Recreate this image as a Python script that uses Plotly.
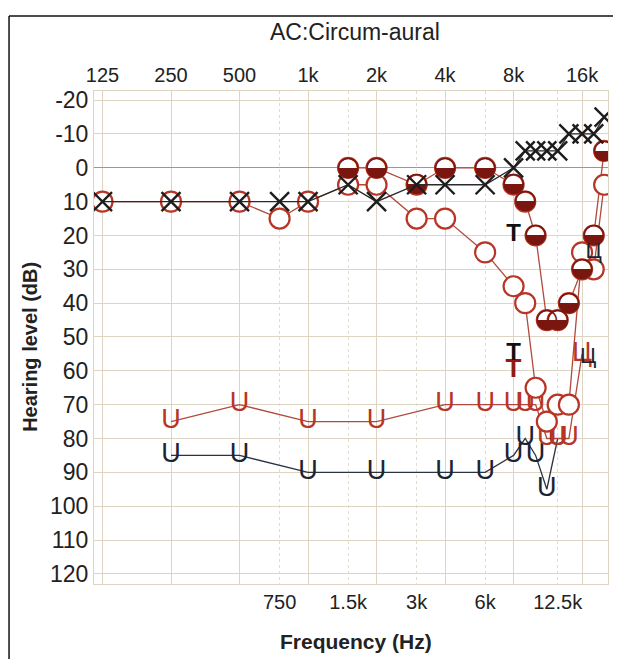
import plotly.graph_objects as go

# ---------------- data ----------------
freq_all = [125, 250, 500, 750, 1000, 1500, 2000, 3000, 4000, 6000, 8000,
            9000, 10000, 11200, 12500, 14000, 16000, 18000, 20000]

# black X series
x_db = [10, 10, 10, 10, 10, 5, 10, 5, 5, 5, 0, -5, -5, -5, -5, -10, -10, -10, -15]

# red open-circle series
open_db = [10, 10, 10, 15, 10, 5, 5, 15, 15, 25, 35, 40, 65, 75, 70, 70, 25, 30, 5]

# red half-filled circle series
half_freq = [1500, 2000, 3000, 4000, 6000, 8000, 9000, 10000, 11200, 12500,
             14000, 16000, 18000, 20000]
half_db = [0, 0, 5, 0, 0, 5, 10, 20, 45, 45, 40, 30, 20, -5]

# red "U" series (last point: no-response symbol)
redu_freq = [250, 500, 1000, 2000, 4000, 6000, 8000, 9000, 10000, 11200,
             12500, 14000, 16000]
redu_db = [75, 70, 75, 75, 70, 70, 70, 70, 70, 80, 80, 80, 55]
redu_sym = ["U"] * 12 + ["Ц"]

# black "U" series
blku_freq = [250, 500, 1000, 2000, 4000, 6000, 8000, 9000, 10000, 11200, 12500]
blku_db = [85, 85, 90, 90, 90, 90, 85, 80, 85, 95, 80]

# isolated symbols
blk_t_freq = [8000, 8000]
blk_t_db = [20, 55]
red_t_freq = [8000]
red_t_db = [60]
blk_nr_freq = [18000, 17000]
blk_nr_db = [25, 56]

top_ticks = [125, 250, 500, 1000, 2000, 4000, 8000, 16000]
top_labels = ["125", "250", "500", "1k", "2k", "4k", "8k", "16k"]
bot_ticks = [750, 1500, 3000, 6000, 12500]
bot_labels = ["750", "1.5k", "3k", "6k", "12.5k"]
y_ticks = list(range(-20, 121, 10))
y_labels = [str(v) for v in y_ticks]

RED = "#b83526"
RED_LINE = "#b04a3c"
DARK_RED = "#7a1610"
BLACK = "#1d1d1d"
NAVY = "#1c2434"
GRID = "#ddd4c4"
FONT = "Liberation Sans, Arial, sans-serif"

fig = go.Figure()

# ---------- connecting lines (drawn first, under every marker) ----------
fig.add_trace(go.Scatter(x=blku_freq, y=blku_db, mode="lines",
                         line=dict(color="#2c3340", width=1.3), hoverinfo="skip"))
fig.add_trace(go.Scatter(x=redu_freq, y=redu_db, mode="lines",
                         line=dict(color=RED_LINE, width=1.3), hoverinfo="skip"))
fig.add_trace(go.Scatter(x=freq_all, y=open_db, mode="lines",
                         line=dict(color=RED_LINE, width=1.3), hoverinfo="skip"))
fig.add_trace(go.Scatter(x=half_freq, y=half_db, mode="lines",
                         line=dict(color=RED_LINE, width=1.3), hoverinfo="skip"))
fig.add_trace(go.Scatter(x=freq_all, y=x_db, mode="lines", xaxis="x2",
                         line=dict(color="#2a2a2a", width=1.3), hoverinfo="skip"))

# ---------- U symbols ----------
fig.add_trace(go.Scatter(x=blku_freq, y=blku_db, mode="text", text=["U"] * len(blku_db),
                         textposition="middle center",
                         textfont=dict(family=FONT, size=27, color=NAVY)))
fig.add_trace(go.Scatter(x=redu_freq, y=redu_db, mode="text", text=redu_sym,
                         textposition="middle center",
                         textfont=dict(family=FONT, size=27, color=RED)))

# ---------- open circles ----------
fig.add_trace(go.Scatter(x=freq_all, y=open_db, mode="markers",
                         marker=dict(symbol="circle", size=20, color="white",
                                     line=dict(color=RED, width=2.2))))

# ---------- half-filled circles ----------
fig.add_trace(go.Scatter(x=half_freq, y=half_db, mode="markers+text",
                         text=["◒"] * len(half_db), textposition="middle center",
                         textfont=dict(family="DejaVu Sans", size=27, color=DARK_RED),
                         marker=dict(symbol="circle", size=20, color="white",
                                     line=dict(color=RED, width=2.2))))

# ---------- X symbols ----------
fig.add_trace(go.Scatter(x=freq_all, y=x_db, mode="markers", xaxis="x2",
                         marker=dict(symbol="x-thin-open", size=19, color=BLACK,
                                     line=dict(color=BLACK, width=2.4))))

# ---------- T and no-response symbols ----------
fig.add_trace(go.Scatter(x=red_t_freq, y=red_t_db, mode="text", text=["<b>T</b>"],
                         textfont=dict(family=FONT, size=26, color="#8e1c12")))
fig.add_trace(go.Scatter(x=blk_t_freq, y=blk_t_db, mode="text", text=["<b>T</b>"] * 2,
                         textfont=dict(family=FONT, size=24, color="#111111")))
fig.add_trace(go.Scatter(x=blk_nr_freq, y=blk_nr_db, mode="text", text=["Ц"] * 2,
                         textfont=dict(family=FONT, size=22, color=NAVY)))

xr = [2.0596, 4.318]
axis_common = dict(type="log", range=xr, showline=True, mirror=True, linecolor=GRID,
                   linewidth=1, ticks="", automargin=False,
                   tickfont=dict(family=FONT, size=20, color="#222"))

# the page body adds an 8px margin, so the figure is laid out shifted by 8px
fig.update_layout(
    width=613, height=651,
    margin=dict(l=86, r=13, t=83, b=75, autoexpand=False),
    paper_bgcolor="white", plot_bgcolor="white",
    showlegend=False,
    title=dict(text="AC:Circum-aural", x=0.566, xref="container", xanchor="center",
               y=1 - 24 / 651, yref="container", yanchor="middle",
               font=dict(family=FONT, size=23, color="#222")),
    xaxis=dict(axis_common, tickvals=bot_ticks, ticktext=bot_labels, side="bottom",
               gridcolor="#e4dccd", griddash="dot", gridwidth=1),
    xaxis2=dict(axis_common, tickvals=top_ticks, ticktext=top_labels, side="top",
                overlaying="x", matches="x", anchor="y",
                gridcolor=GRID, gridwidth=1),
    yaxis=dict(range=[123, -22.7], tickvals=y_ticks, ticktext=y_labels,
               showline=True, mirror=True, automargin=False,
               linecolor=GRID, gridcolor=GRID, gridwidth=1, ticks="",
               zeroline=True, zerolinecolor="#9b9890", zerolinewidth=1.3,
               tickfont=dict(family=FONT, size=23, color="#222")),
    annotations=[
        dict(text="<b>Hearing level (dB)</b>", xref="paper", yref="paper",
             x=-0.1245, y=0.481, textangle=-90, showarrow=False,
             xanchor="center", yanchor="middle",
             font=dict(family=FONT, size=20, color="#222")),
        dict(text="<b>Frequency (Hz)</b>", xref="paper", yref="paper",
             x=0.51, y=-0.1176, showarrow=False, xanchor="center", yanchor="middle",
             font=dict(family=FONT, size=21, color="#222")),
    ],
    shapes=[
        dict(type="line", xref="paper", yref="paper", x0=-0.1653, x1=-0.1653,
             y0=1.152, y1=-0.2, line=dict(color="#111", width=1.5)),
        dict(type="line", xref="paper", yref="paper", x0=-0.1653, x1=1.1,
             y0=1.152, y1=1.152, line=dict(color="#111", width=1.5)),
    ],
)

fig.write_html("out.html")
